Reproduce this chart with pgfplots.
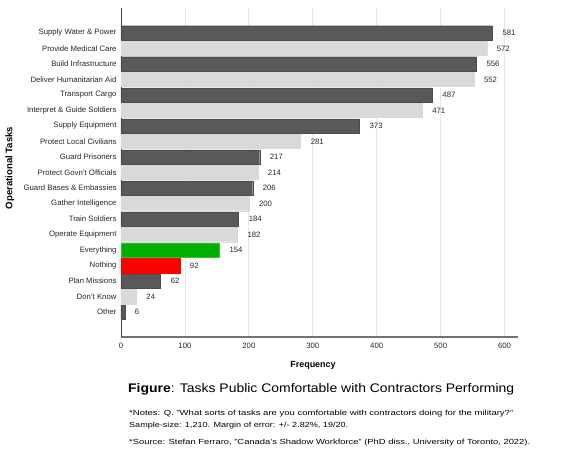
\documentclass[border=0pt]{standalone}
\usepackage{pgfplots}
\pgfplotsset{compat=1.18}
\usepackage{fontspec}
\setmainfont{Liberation Sans}
\definecolor{darkbar}{HTML}{595959}
\definecolor{lightbar}{HTML}{D9D9D9}
\definecolor{greenbar}{HTML}{00B000}
\definecolor{redbar}{HTML}{FF0000}
\definecolor{gridc}{HTML}{E6E6E6}
\begin{document}
\begin{tikzpicture}
\useasboundingbox (-121bp,-116bp) rectangle (459bp,337bp);
\begin{axis}[
  at={(0,0)}, anchor=south west,
  scale only axis, width=397bp, height=329bp,
  xbar, bar width=0.92, /pgf/bar shift=0pt,
  xmin=0, xmax=621, ymin=-1.6, ymax=19.6,
  xtick={0,100,200,300,400,500,600},
  ytick={0,...,18},
  yticklabels={Other,Don't Know,Plan Missions,Nothing,Everything,Operate Equipment,Train Soldiers,Gather Intelligence,Guard Bases \& Embassies,Protect Govn't Officials,Guard Prisoners,Protect Local Civilians,Supply Equipment,Interpret \& Guide Soldiers,Transport Cargo,Deliver Humanitarian Aid,Build Infrastructure,Provide Medical Care,Supply Water \& Power},
  axis x line*=bottom, axis y line*=left,
  x axis line style={draw=black!55, line width=1.2bp, -},
  y axis line style={draw=black!75, line width=0.8bp, -},
  xmajorgrids, major grid style={draw=gridc, line width=0.8bp},
  major tick length=0pt,
  /pgf/number format/assume math mode=true,
  tick label style={font=\fontsize{7.8}{9}\selectfont, text=black!85},
  yticklabel style={xshift=-1bp},
  xticklabel style={yshift=-3bp},
  nodes near coords,
  nodes near coords style={anchor=west, inner sep=0pt, xshift=10bp, font=\fontsize{7.8}{9}\selectfont, text=black!85},
  point meta=explicit symbolic,
]
\addplot[fill=darkbar, draw=black!70, line width=0.3bp] coordinates {
  (581,18) [581] (556,16) [556] (487,14) [487] (373,12) [373]
  (217,10) [217] (206,8) [206] (184,6) [184] (62,2) [62] (6,0) [6]};
\addplot[fill=lightbar, draw=lightbar, line width=0.3bp] coordinates {
  (572,17) [572] (552,15) [552] (471,13) [471] (281,11) [281]
  (214,9) [214] (200,7) [200] (182,5) [182] (24,1) [24]};
\addplot[fill=greenbar, draw=greenbar!80!white, line width=0.3bp] coordinates {(154,4) [154]};
\addplot[fill=redbar, draw=redbar, line width=0.3bp] coordinates {(92,3) [92]};
\end{axis}
\node[rotate=90, font=\fontsize{9.6}{12}\selectfont\bfseries] at (-111bp,169bp) {Operational Tasks};
\node[font=\fontsize{9}{11}\selectfont\bfseries] at (192bp,-28bp) {Frequency};
\node[anchor=west, inner sep=0pt, font=\fontsize{12.5}{14}\selectfont] at (7bp,-52bp) {\resizebox{386bp}{\height}{\textbf{Figure}: Tasks Public Comfortable with Contractors Performing}};
\node[anchor=west, inner sep=0pt, font=\fontsize{7.4}{8}\selectfont] at (8bp,-77bp) {\resizebox{384bp}{\height}{*Notes: Q. "What sorts of tasks are you comfortable with contractors doing for the military?"}};
\node[anchor=west, inner sep=0pt, font=\fontsize{7.4}{8}\selectfont] at (8bp,-89bp) {\resizebox{219bp}{\height}{Sample-size: 1,210. Margin of error: +/- 2.82\%, 19/20.}};
\node[anchor=west, inner sep=0pt, font=\fontsize{7.4}{8}\selectfont] at (8bp,-106bp) {\resizebox{401bp}{\height}{*Source: Stefan Ferraro, "Canada's Shadow Workforce" (PhD diss., University of Toronto, 2022).}};
\end{tikzpicture}
\end{document}
